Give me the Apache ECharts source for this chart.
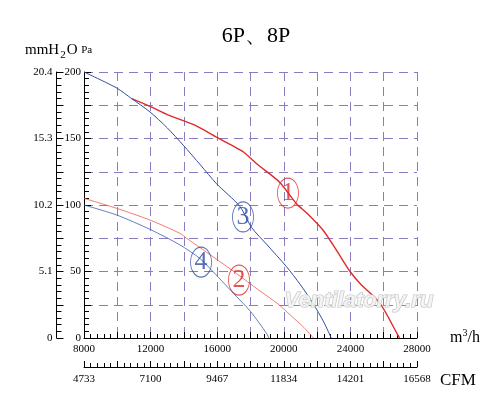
<!DOCTYPE html>
<html>
<head>
<meta charset="utf-8">
<script src="https://cdn.jsdelivr.net/npm/echarts@6/dist/echarts.min.js"></script>
<style>html,body{margin:0;padding:0;background:#fff}#c{width:500px;height:410px}</style>
</head>
<body>
<div id="c"></div>
<script>
// Airflow (m3/h) vs static pressure (Pa)
const curve1 = [[10860,180],[12000,174],[13000,168],[14660,160],[15960,151],[17000,144],[17560,140],[18370,131],[19760,117],[20760,101],[21375,94],[22360,81],[23160,66],[23980,50],[24580,41],[25780,26],[26860,2],[26950,0]];
const curve2 = [[8000,105],[9960,97.5],[11960,88.7],[13760,78.7],[14160,75],[15760,61],[17160,48.5],[18500,36],[19660,25.5],[20500,16],[21200,8],[21780,0]];
const curve3 = [[8000,200],[9960,188],[10860,180],[11960,170],[13000,158],[13960,145],[15000,130],[15960,116],[17360,99],[18070,83],[19000,70],[20170,53.5],[21000,40],[21760,26],[22400,12],[22850,0]];
const curve4 = [[8000,100],[9960,92.5],[11960,81.7],[13760,70],[14960,59.8],[15760,49.7],[17170,31],[18000,20],[18970,3.3],[19100,0]];
const curveLabels = [[20250,109,'1'],[17550,91,'3'],[15030,57,'4'],[17310,43.5,'2']];
const mmLabels = ['0','5.1','10.2','15.3','20.4'];
const cfmLabels = ['4733','7100','9467','11834','14201','16568'];

const RED = '#e02a2a', RED2 = '#ec5a4a', BLUE = '#2f4fa3', BLUE2 = '#3a5cb0';
const serif = 'Liberation Serif, Times New Roman, serif';
const chart = echarts.init(document.getElementById('c'), null, {renderer:'canvas'});
const ell = 'path://M10,0A10,10,0,1,1,10,20A10,10,0,1,1,10,0Z';
const labelColors = {'1':RED,'2':RED,'3':BLUE,'4':BLUE};

function lineSeries(data, color, width){
  return {type:'line', data:data, showSymbol:false, smooth:0.25, xAxisIndex:0, yAxisIndex:0,
    lineStyle:{color:color, width:width}, itemStyle:{color:color}, silent:true, z:3};
}
const tickStyle = {color:'#000', width:1};
chart.setOption({
  animation:false,
  title:{text:'6P、8P', left:251, top:20, textAlign:'center',
    textStyle:{fontFamily:serif, fontSize:22, fontWeight:'normal', color:'#000'}},
  grid:{left:84, top:72, width:333, height:266},
  xAxis:[{
    type:'value', min:8000, max:28000, interval:2000, position:'bottom',
    axisLine:{show:true, onZero:false, lineStyle:tickStyle}, axisTick:{show:true, inside:true, length:6, lineStyle:tickStyle},
    minorTick:{show:true, splitNumber:5, length:4, lineStyle:tickStyle},
    axisLabel:{margin:6, fontFamily:serif, fontSize:11, color:'#000',
      formatter:v => (v % 4000 === 0 ? String(v) : '')},
    splitLine:{show:true, lineStyle:{color:'#8a7cc0', type:[9,6], width:1}}
  },{
    type:'value', min:8000, max:28000, interval:2000, position:'bottom', offset:29,
    axisLine:{show:true, onZero:false, lineStyle:tickStyle}, axisTick:{show:true, inside:true, length:6, lineStyle:tickStyle},
    minorTick:{show:true, splitNumber:5, length:4, lineStyle:tickStyle},
    axisLabel:{margin:7, fontFamily:serif, fontSize:11, color:'#000',
      formatter:v => (v % 4000 === 0 ? cfmLabels[(v-8000)/4000] : '')},
    splitLine:{show:false}
  }],
  yAxis:[{
    type:'value', min:0, max:200, interval:25, position:'left',
    axisLine:{show:true, onZero:false, lineStyle:tickStyle}, axisTick:{show:true, inside:true, length:7, lineStyle:tickStyle},
    minorTick:{show:true, splitNumber:5, length:5, lineStyle:tickStyle},
    axisLabel:{margin:3, fontFamily:serif, fontSize:11, color:'#000',
      formatter:v => (v % 50 === 0 ? String(v) : '')},
    splitLine:{show:true, lineStyle:{color:'#8a7cc0', type:[9,6], width:1}}
  },{
    type:'value', min:0, max:200, interval:25, position:'left', offset:27.5,
    axisLine:{show:true, onZero:false, lineStyle:tickStyle}, axisTick:{show:true, inside:true, length:7, lineStyle:tickStyle},
    minorTick:{show:true, splitNumber:5, length:5, lineStyle:tickStyle},
    axisLabel:{margin:4, fontFamily:serif, fontSize:11, color:'#000',
      formatter:v => (v % 50 === 0 ? mmLabels[v/50] : '')},
    splitLine:{show:false}
  }],
  graphic:[
    {type:'text', left:25, top:43, style:{rich:{
        a:{fontFamily:serif, fontSize:15, fill:'#000'},
        s:{fontFamily:serif, fontSize:11, fill:'#000', padding:[9,1,0,1]},
        p:{fontFamily:serif, fontSize:11, fill:'#000'}},
      text:'{a|mmH}{s|2}{a|O }{p|Pa}'}},
    {type:'text', left:450, top:328, style:{rich:{
        a:{fontFamily:serif, fontSize:16, fill:'#000'},
        u:{fontFamily:serif, fontSize:10, fill:'#000', padding:[0,0,9,0]}},
      text:'{a|m}{u|3}{a|/h}'}},
    {type:'text', left:440, top:372, style:{text:'CFM', fontFamily:serif, fontSize:17, fill:'#000'}},
    {type:'text', left:284, top:289, z:100, style:{text:'Ventilatorry.ru', fontFamily:'Liberation Sans, Arial, sans-serif',
      fontSize:22, fontStyle:'italic', fontWeight:'bold', fill:'rgba(245,245,245,0.85)', stroke:'#c4c4c4', lineWidth:1.2}}
  ],
  series:[
    lineSeries(curve1, RED, 1.4),
    lineSeries(curve2, RED2, 0.8),
    lineSeries(curve3, BLUE, 1),
    lineSeries(curve4, BLUE2, 0.8),
    {type:'scatter', xAxisIndex:0, yAxisIndex:0, silent:true, z:5,
      data:curveLabels.map(d => ({value:[d[0],d[1]], name:d[2],
        itemStyle:{color:'rgba(0,0,0,0)', borderColor:labelColors[d[2]], borderWidth:1},
        label:{color:labelColors[d[2]]}})),
      symbol:ell, symbolSize:[21,30],
      label:{show:true, position:'inside', formatter:p => p.name, fontFamily:serif, fontSize:26}}
  ]
});
</script>
</body>
</html>
